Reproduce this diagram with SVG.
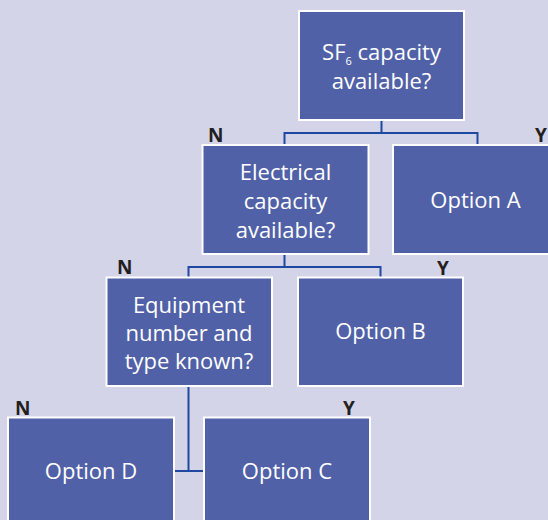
<svg xmlns="http://www.w3.org/2000/svg" width="548" height="520" viewBox="0 0 548 520">
<defs>
<style>
.box{fill:#5161a7;stroke:#ffffff;stroke-width:2}
.t{font-family:"Open Sans","Noto Sans",sans-serif;font-size:22px;fill:#ffffff;text-anchor:middle}
.lbl{font-family:"Open Sans","Noto Sans",sans-serif;font-size:19px;font-weight:bold;fill:#231f20}
.con{fill:none;stroke:#1f48a0;stroke-width:2}
</style>
</defs>
<rect x="0" y="0" width="548" height="520" fill="#d4d4e9"/>
<g id="connectors">
<path class="con" d="M381.5,121 V133 M284.5,144 V133 H477.5 V144"/>
<path class="con" d="M284.5,255 V267 M188.5,277 V267 H380.5 V277"/>
<path class="con" d="M188.5,387 V471 M175,471 H203"/>
</g>
<g id="sf6">
<rect class="box" x="299" y="11" width="165" height="109"/>
<text class="t" x="381.5" y="60">SF<tspan font-size="11" dy="5">6</tspan><tspan dy="-5"> capacity</tspan></text>
<text class="t" x="381.5" y="89">available?</text>
</g>
<g id="electrical">
<rect class="box" x="202.5" y="145" width="166" height="109"/>
<text class="t" x="285.5" y="180">Electrical</text>
<text class="t" x="285.5" y="209">capacity</text>
<text class="t" x="285.5" y="238">available?</text>
<text class="lbl" x="208" y="142">N</text>
</g>
<g id="optionA">
<rect class="box" x="393" y="145" width="166" height="109"/>
<text class="t" x="475.5" y="208">Option A</text>
<text class="lbl" x="535" y="142">Y</text>
</g>
<g id="equipment">
<rect class="box" x="106.5" y="277.5" width="165.5" height="108.5"/>
<text class="t" x="189" y="313">Equipment</text>
<text class="t" x="189" y="341">number and</text>
<text class="t" x="189" y="369">type known?</text>
<text class="lbl" x="117" y="274">N</text>
</g>
<g id="optionB">
<rect class="box" x="298" y="277.5" width="165" height="108.5"/>
<text class="t" x="380.5" y="339">Option B</text>
<text class="lbl" x="437" y="275">Y</text>
</g>
<g id="optionD">
<rect class="box" x="8" y="417.5" width="166" height="110"/>
<text class="t" x="91" y="479">Option D</text>
<text class="lbl" x="15" y="415">N</text>
</g>
<g id="optionC">
<rect class="box" x="204" y="417.5" width="166" height="110"/>
<text class="t" x="287" y="479">Option C</text>
<text class="lbl" x="343" y="415">Y</text>
</g>
</svg>
